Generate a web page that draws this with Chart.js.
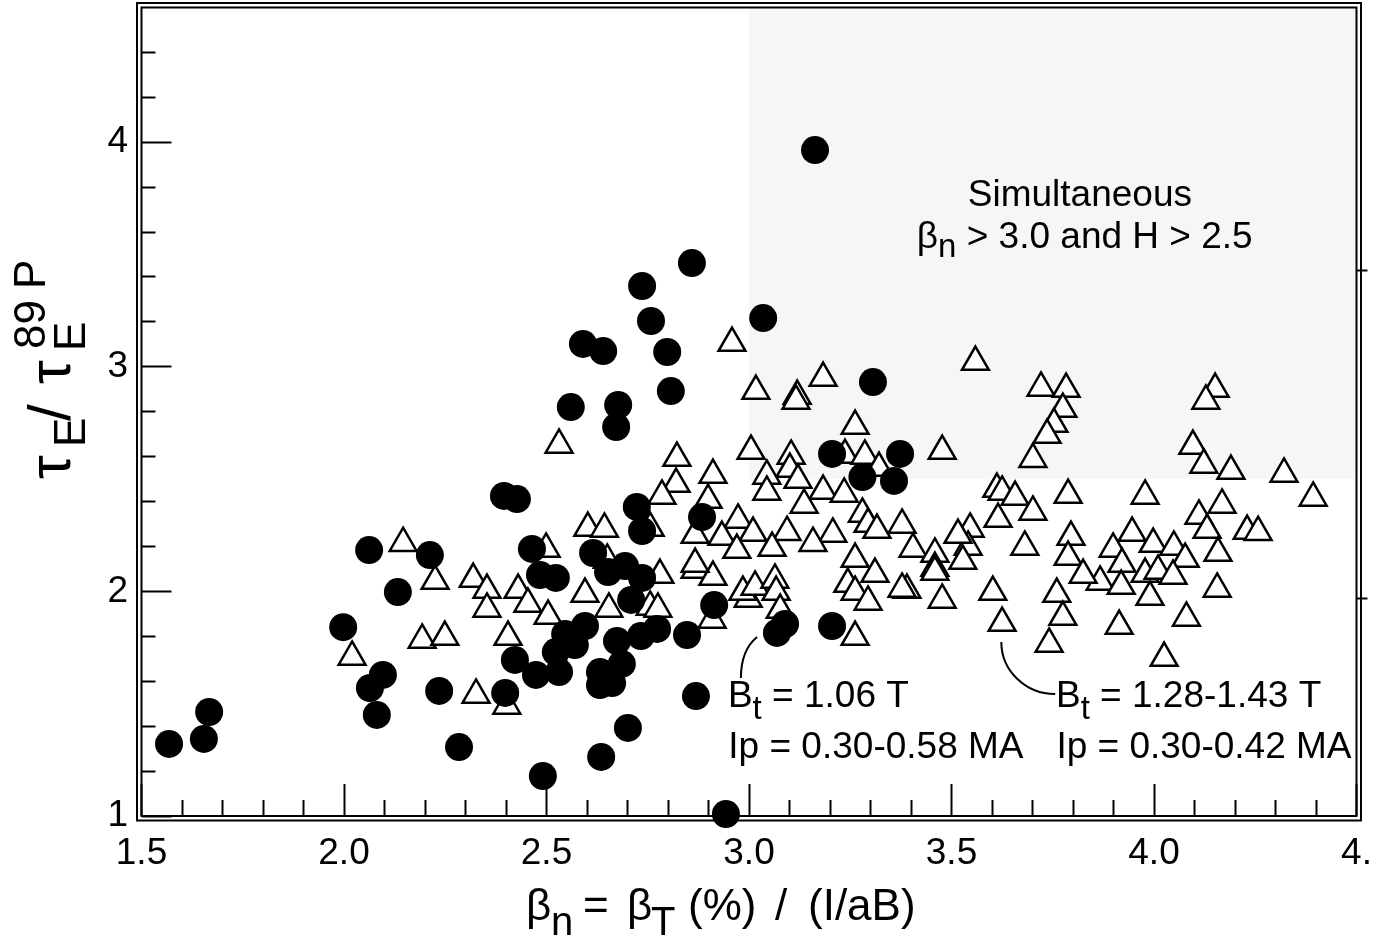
<!DOCTYPE html>
<html>
<head>
<meta charset="utf-8">
<title>Confinement enhancement vs normalized beta</title>
<script src="https://cdn.jsdelivr.net/npm/chart.js@4.4.0/dist/chart.umd.min.js"></script>
<style>
  html, body { margin: 0; padding: 0; background: #fff; overflow: hidden; }
  #wrap { width: 1385px; height: 941px; }
</style>
</head>
<body>
<div id="wrap"><canvas id="chart" width="1385" height="941"></canvas></div>
<script>
// Bt = 1.06 T, Ip = 0.30-0.58 MA (filled circles)
const lowFieldBeta = [
  1.568, 1.654, 1.667, 1.998, 2.062, 2.212, 2.133, 2.096, 2.064, 2.081,
  2.235, 2.284, 2.398, 2.491, 2.635, 2.701, 2.422, 2.474, 2.531, 2.523,
  2.546, 2.595, 2.570, 2.674, 2.686, 2.632, 2.662, 2.632, 2.733, 2.709,
  2.652, 2.694, 2.736, 2.484, 2.523, 2.464, 2.615, 2.773, 2.847, 2.914,
  3.069, 3.089, 3.205, 2.869, 2.943, 2.395, 2.427, 2.723, 2.736, 2.884,
  3.205, 3.373, 3.280, 3.358, 3.163, 2.859, 2.736, 2.758, 3.035, 2.590,
  2.640, 2.798, 3.306, 2.807, 2.560, 2.677, 2.672
];
const lowFieldH = [
  1.321, 1.343, 1.463, 1.841, 2.184, 2.162, 1.997, 1.628, 1.570, 1.450,
  1.557, 1.307, 1.548, 1.178, 1.263, 1.392, 1.695, 1.628, 1.641, 1.730,
  1.810, 1.846, 1.761, 1.779, 1.677, 1.583, 1.592, 1.641, 1.801, 1.962,
  2.086, 2.113, 2.060, 2.073, 2.060, 2.189, 2.171, 1.833, 1.806, 1.939,
  1.815, 1.855, 1.846, 1.534, 1.009, 2.425, 2.411, 2.376, 2.269, 2.331,
  2.612, 2.612, 2.509, 2.492, 3.965, 3.462, 3.360, 3.204, 3.217, 3.102,
  3.070, 3.066, 2.932, 2.892, 2.821, 2.830, 2.732
];

// Bt = 1.28-1.43 T, Ip = 0.30-0.42 MA (open triangles)
const highFieldBeta = [
  2.020, 2.146, 2.225, 2.193, 2.249, 2.319, 2.353, 2.353, 2.430, 2.454,
  2.504, 2.595, 2.654, 2.756, 2.405, 2.326, 2.402, 2.531, 2.602, 2.643,
  2.499, 2.650, 2.756, 2.958, 3.559, 3.183, 3.017, 3.119, 3.116, 3.262,
  3.477, 2.822, 3.005, 3.104, 3.101, 3.237, 3.286, 3.321, 3.044, 3.121,
  2.911, 2.820, 2.785, 2.899, 3.044, 3.183, 3.235, 3.136, 3.280, 3.294,
  3.316, 3.378, 2.973, 3.010, 3.094, 2.933, 2.867, 3.207, 3.158, 3.057,
  2.970, 3.262, 3.405, 3.459, 3.546, 3.541, 3.516, 3.612, 3.625, 3.615,
  3.721, 3.783, 3.775, 3.753, 3.736, 3.701, 4.151, 4.128, 4.096, 4.123,
  4.190, 4.321, 4.393, 3.657, 3.701, 3.788, 3.978, 4.111, 4.168, 4.131,
  4.230, 4.257, 4.158, 3.795, 3.681, 3.788, 3.946, 3.998, 4.049, 3.899,
  4.077, 3.921, 3.867, 3.919, 3.825, 3.978, 4.010, 4.047, 3.990, 4.156,
  4.080, 3.914, 4.025, 3.760, 3.775, 3.741, 3.602, 3.625, 3.477, 3.459,
  3.390, 3.528, 2.780, 2.867, 2.911, 2.775, 2.909, 2.998, 2.985, 3.015,
  3.064, 3.067, 3.077, 3.244, 3.262, 3.294, 3.311, 3.378, 3.459, 3.262,
  2.867
];
const highFieldH = [
  1.708, 2.215, 2.046, 1.784, 1.797, 2.055, 2.006, 1.922, 2.006, 1.944,
  1.890, 1.988, 1.922, 1.931, 1.797, 1.539, 1.490, 2.652, 2.282, 2.278,
  2.189, 2.140, 2.282, 3.106, 3.021, 2.950, 2.892, 2.870, 2.848, 2.736,
  2.625, 2.594, 2.625, 2.603, 2.545, 2.607, 2.603, 2.549, 2.514, 2.496,
  2.518, 2.478, 2.425, 2.407, 2.443, 2.447, 2.434, 2.385, 2.345, 2.300,
  2.273, 2.296, 2.318, 2.260, 2.264, 2.242, 2.251, 2.256, 2.215, 2.193,
  2.184, 2.144, 2.189, 2.167, 2.278, 2.198, 2.251, 2.456, 2.443, 2.322,
  2.906, 2.901, 2.812, 2.745, 2.696, 2.589, 2.901, 2.848, 2.647, 2.563,
  2.536, 2.523, 2.416, 2.420, 2.354, 2.429, 2.425, 2.336, 2.385, 2.273,
  2.269, 2.264, 2.171, 2.242, 2.198, 2.153, 2.260, 2.211, 2.198, 2.189,
  2.144, 2.122, 2.042, 2.024, 2.073, 2.077, 2.091, 2.069, 1.975, 2.011,
  1.882, 1.846, 1.703, 1.988, 1.886, 1.766, 1.997, 1.859, 1.962, 2.104,
  2.006, 2.135, 2.073, 2.095, 2.064, 1.922, 1.873, 1.966, 1.997, 2.020,
  2.051, 1.997, 1.917, 2.033, 1.997, 1.953, 2.077, 2.011, 2.086, 1.797,
  2.122
];

// axes
const xMajorTicks = [1.5, 2.0, 2.5, 3.0, 3.5, 4.0, 4.5];
const xTickLabels = ['1.5', '2.0', '2.5', '3.0', '3.5', '4.0', '4.'];
const xMinorTicks = [1.6, 1.7, 1.8, 1.9, 2.1, 2.2, 2.3, 2.4, 2.6, 2.7, 2.8, 2.9,
                     3.1, 3.2, 3.3, 3.4, 3.6, 3.7, 3.8, 3.9, 4.1, 4.2, 4.3, 4.4];
const yMajorTicks = [1, 2, 3, 4];
const yTickLabels = ['1', '2', '3', '4'];
const yMinorTicks = [1.2, 1.4, 1.6, 1.8, 2.2, 2.4, 2.6, 2.8, 3.2, 3.4, 3.6, 3.8, 4.2, 4.4];
const rightTicks = [1.97, 3.43];

// shaded "simultaneous" corner: beta_n > 3.0 and H > 2.5
const shadeBeta = 3.0;
const shadeH = 2.5;

const family = '"Liberation Sans", Arial, Helvetica, sans-serif';
const black = '#000';

function fixedTicks(values) {
  return function (scale) {
    scale.ticks = values.map(v => ({ value: v }));
  };
}
function fixSize(size) {
  return function (scale) {
    if (scale.isHorizontal()) scale.height = size;
    else scale.width = size;
    scale.paddingTop = scale.paddingBottom = scale.paddingLeft = scale.paddingRight = 0;
  };
}

// text with subscripts: parts are [text, font, dy]
function drawParts(ctx, x, y, parts, align) {
  let width = 0;
  parts.forEach(p => { ctx.font = p[1]; width += ctx.measureText(p[0]).width; });
  let cx = align === 'center' ? x - width / 2 : x;
  parts.forEach(p => {
    ctx.font = p[1];
    ctx.fillText(p[0], cx, y + p[2]);
    cx += ctx.measureText(p[0]).width;
  });
}

const noteFont = '37px ' + family;
const noteSub = '33px ' + family;
const notes = [
  { beta: 3.817, h: 3.716, align: 'center', parts: [['Simultaneous', noteFont, 0]] },
  { beta: 3.829, h: 3.529, align: 'center',
    parts: [['\u03b2', noteFont, 0], ['n', noteSub, 9], [' > 3.0 and H > 2.5', noteFont, 0]] },
  { beta: 2.948, h: 1.485, align: 'left',
    parts: [['B', noteFont, 0], ['t', noteSub, 12], [' = 1.06 T', noteFont, 0]] },
  { beta: 2.949, h: 1.258, align: 'left', parts: [['Ip = 0.30-0.58 MA', noteFont, 0]] },
  { beta: 3.758, h: 1.485, align: 'left',
    parts: [['B', noteFont, 0], ['t', noteSub, 12], [' = 1.28-1.43 T', noteFont, 0]] },
  { beta: 3.759, h: 1.258, align: 'left', parts: [['Ip = 0.30-0.42 MA', noteFont, 0]] }
];

const panelPlugin = {
  id: 'panel',
  beforeDraw(chart) {
    const ctx = chart.ctx;
    const area = chart.chartArea;
    const x = chart.scales.x, y = chart.scales.y;
    ctx.save();
    ctx.fillStyle = '#fff';
    ctx.fillRect(0, 0, chart.width, chart.height);
    const left = x.getPixelForValue(shadeBeta);
    const bottom = y.getPixelForValue(shadeH);
    ctx.fillStyle = '#f6f6f6';
    ctx.fillRect(left, area.top, area.right - left, bottom - area.top);
    ctx.restore();
  },
  beforeDatasetsDraw(chart) {
    const ctx = chart.ctx;
    const a = chart.chartArea;
    ctx.save();
    ctx.strokeStyle = black;
    ctx.lineWidth = 2;
    ctx.strokeRect(a.left, a.top, a.right - a.left, a.bottom - a.top);
    const o = 4.5;
    ctx.strokeRect(a.left - o, a.top - o, a.right - a.left + 2 * o, a.bottom - a.top + 2 * o);
    ctx.restore();
  },
  afterDatasetsDraw(chart) {
    const ctx = chart.ctx;
    const x = chart.scales.x, y = chart.scales.y;
    const px = v => x.getPixelForValue(v), py = v => y.getPixelForValue(v);
    ctx.save();
    ctx.strokeStyle = black;
    ctx.fillStyle = black;
    ctx.lineWidth = 2;

    // leader for the 1.06 T group
    ctx.beginPath();
    ctx.moveTo(px(3.020), py(1.797));
    ctx.quadraticCurveTo(px(2.980), py(1.739), px(2.980), py(1.614));
    ctx.stroke();

    // leader for the 1.28-1.43 T group
    const x0 = px(3.623), y0 = py(1.775), x1 = px(3.756), y1 = py(1.543);
    const k = 0.55;
    ctx.beginPath();
    ctx.moveTo(x0, y0);
    ctx.bezierCurveTo(x0, y0 + k * (y1 - y0), x1 - k * (x1 - x0), y1, x1, y1);
    ctx.stroke();

    ctx.textBaseline = 'alphabetic';
    ctx.textAlign = 'left';
    notes.forEach(n => drawParts(ctx, px(n.beta), py(n.h), n.parts, n.align));

    // x axis title: beta_n = beta_T (%) / (I/aB)
    const xMain = '44px ' + family, xSub = '40px ' + family;
    const xTitle = [['\u03b2', 526, xMain, 0], ['n', 551, xSub, 15], ['=', 583, xMain, 0],
                    ['\u03b2', 627, xMain, 0], ['T', 651, xSub, 15], ['(%)', 688, xMain, 0],
                    ['/', 775, xMain, 0], ['(I/aB)', 808, xMain, 0]];
    xTitle.forEach(s => { ctx.font = s[2]; ctx.fillText(s[0], s[1], 920 + s[3]); });

    // y axis title: tau_E / tau_E^89P, rotated
    const yMain = '60px ' + family, ySub = '44px ' + family;
    const yTitle = [['\u03c4', 0, yMain, 0], ['E', 32, ySub, 15], ['/', 58, yMain, 0],
                    ['\u03c4', 95, yMain, 0], ['E', 128, ySub, 15], ['89', 130, ySub, -25],
                    ['P', 190, ySub, -25]];
    ctx.translate(70, 479);
    ctx.rotate(-Math.PI / 2);
    yTitle.forEach(s => { ctx.font = s[2]; ctx.fillText(s[0], s[1], s[3]); });
    ctx.restore();
  }
};

const tickFont = { family: family, size: 37 };

new Chart(document.getElementById('chart').getContext('2d'), {
  type: 'scatter',
  data: {
    datasets: [
      {
        label: 'Bt = 1.06 T',
        data: lowFieldBeta.map((b, i) => ({ x: b, y: lowFieldH[i] })),
        pointStyle: 'circle',
        pointRadius: 14,
        pointBackgroundColor: black,
        pointBorderWidth: 0,
        clip: false
      },
      {
        label: 'Bt = 1.28-1.43 T',
        data: highFieldBeta.map((b, i) => ({ x: b, y: highFieldH[i] })),
        pointStyle: 'triangle',
        pointRadius: 15.5,
        pointBackgroundColor: '#fff',
        pointBorderColor: black,
        pointBorderWidth: 2.5,
        clip: false
      }
    ]
  },
  options: {
    responsive: false,
    devicePixelRatio: 1,
    animation: false,
    events: [],
    layout: { autoPadding: false, padding: { left: 0, top: 7.5, right: 28.5, bottom: 0 } },
    plugins: { legend: { display: false }, tooltip: { enabled: false } },
    scales: {
      x: {
        type: 'linear', position: 'bottom', min: 1.5, max: 4.5, weight: 1,
        afterBuildTicks: fixedTicks(xMajorTicks),
        afterFit: fixSize(125),
        border: { display: false },
        grid: { drawOnChartArea: false, tickLength: -32, tickWidth: 2, tickColor: black },
        ticks: { font: tickFont, color: black, padding: 48, autoSkip: false, maxRotation: 0,
                 callback: (v, i) => xTickLabels[i] }
      },
      xMinor: {
        type: 'linear', position: 'bottom', min: 1.5, max: 4.5, weight: 0,
        afterBuildTicks: fixedTicks(xMinorTicks),
        afterFit: fixSize(0),
        border: { display: false },
        grid: { drawOnChartArea: false, tickLength: -16, tickWidth: 2, tickColor: black },
        ticks: { display: false }
      },
      y: {
        type: 'linear', position: 'left', min: 1, max: 4.6, weight: 1,
        afterBuildTicks: fixedTicks(yMajorTicks),
        afterFit: fixSize(141.5),
        border: { display: false },
        grid: { drawOnChartArea: false, tickLength: -30, tickWidth: 2, tickColor: black },
        ticks: { font: tickFont, color: black, padding: 43.5, autoSkip: false,
                 callback: (v, i) => yTickLabels[i] }
      },
      yMinor: {
        type: 'linear', position: 'left', min: 1, max: 4.6, weight: 0,
        afterBuildTicks: fixedTicks(yMinorTicks),
        afterFit: fixSize(0),
        border: { display: false },
        grid: { drawOnChartArea: false, tickLength: -14, tickWidth: 2, tickColor: black },
        ticks: { display: false }
      },
      yRight: {
        type: 'linear', position: 'right', min: 1, max: 4.6,
        afterBuildTicks: fixedTicks(rightTicks),
        afterFit: fixSize(0),
        border: { display: false },
        grid: { drawOnChartArea: false, tickLength: 11, tickWidth: 2, tickColor: black },
        ticks: { display: false }
      }
    }
  },
  plugins: [panelPlugin]
});
</script>
</body>
</html>
